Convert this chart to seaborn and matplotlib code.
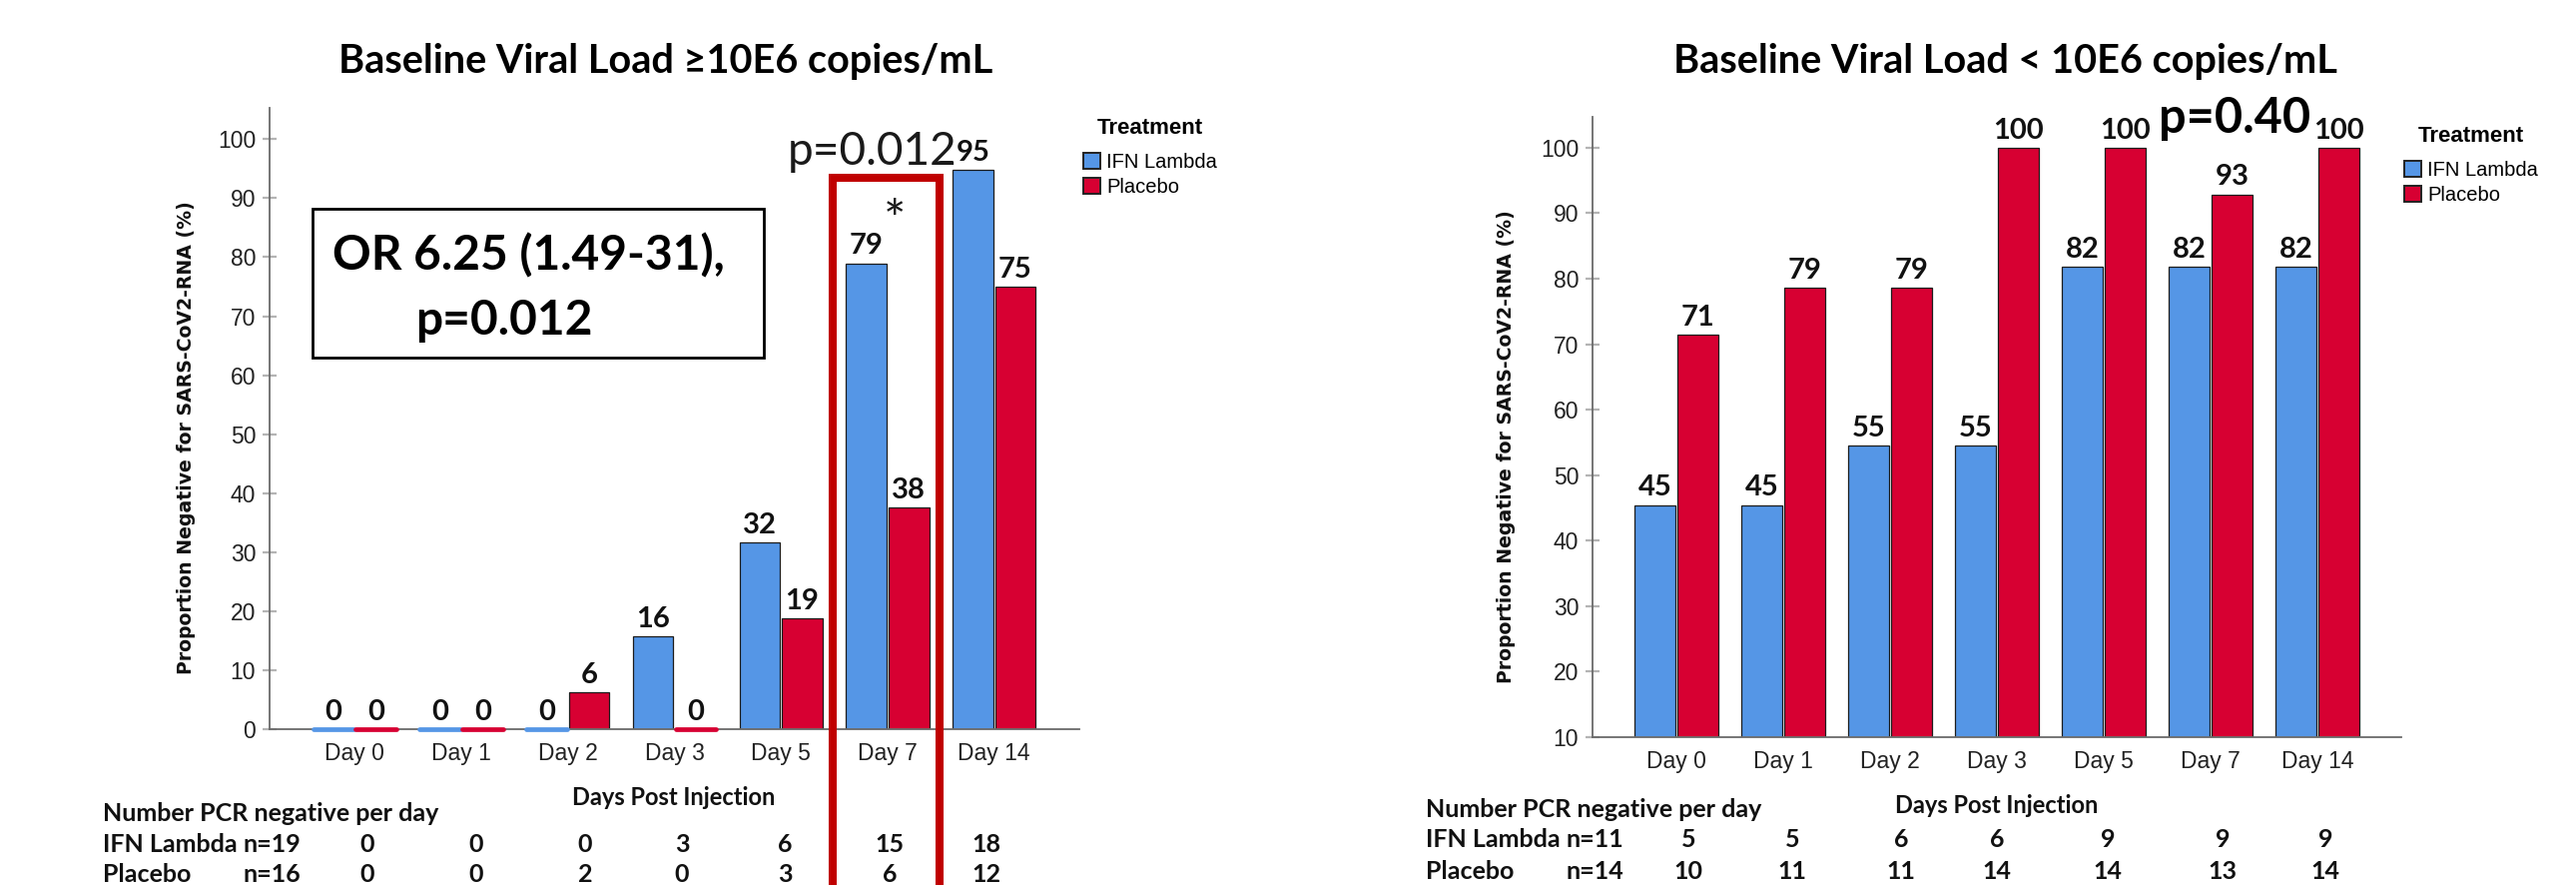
import matplotlib
matplotlib.use("Agg")
import matplotlib.pyplot as plt
from matplotlib.lines import Line2D
from matplotlib.patches import Rectangle
import pandas as pd
import seaborn as sns

# ---------------------------------------------------------------- data
days = ["Day 0", "Day 1", "Day 2", "Day 3", "Day 5", "Day 7", "Day 14"]
treatments = ["IFN Lambda", "Placebo"]

# proportion (%) PCR negative, baseline viral load >= 10E6 copies/mL
high_ifn = [0, 0, 0, 15.79, 31.58, 78.95, 94.74]
high_placebo = [0, 0, 6.25, 0, 18.75, 37.5, 75.0]

# proportion (%) PCR negative, baseline viral load < 10E6 copies/mL
low_ifn = [45.45, 45.45, 54.55, 54.55, 81.82, 81.82, 81.82]
low_placebo = [71.43, 78.57, 78.57, 100.0, 100.0, 92.86, 100.0]

# number of PCR-negative patients per day
high_ifn_n = [0, 0, 0, 3, 6, 15, 18]
high_placebo_n = [0, 0, 2, 0, 3, 6, 12]
low_ifn_n = [5, 5, 6, 6, 9, 9, 9]
low_placebo_n = [10, 11, 11, 14, 14, 13, 14]

high_group_sizes = ["n=19", "n=16"]
low_group_sizes = ["n=11", "n=14"]

palette = {"IFN Lambda": "#5596E6", "Placebo": "#D70032"}

# ---------------------------------------------------------------- figure
W, H = 2580, 886
plt.rcParams["font.family"] = ["Liberation Sans", "DejaVu Sans"]
fig = plt.figure(figsize=(W / 100, H / 100), dpi=100)
fig.patch.set_facecolor("white")

CAL = ["Lato", "DejaVu Sans"]


def fx(px):
    return px / W


def fy(py):
    return 1 - py / H


def panel(rect, ifn, placebo, ylim, yticks, xlim, legend_xy, ylabel_xy):
    df = pd.DataFrame({
        "Day": days * 2,
        "Treatment": [treatments[0]] * len(days) + [treatments[1]] * len(days),
        "Pct": list(ifn) + list(placebo),
    })
    ax = fig.add_axes(rect)
    sns.barplot(data=df, x="Day", y="Pct", hue="Treatment", order=days,
                hue_order=treatments, palette=palette, saturation=1,
                width=0.8, gap=0.05, edgecolor="#1c1c1c", linewidth=0.9,
                errorbar=None, ax=ax)

    for cont in ax.containers:
        ax.bar_label(cont, fmt="{:.0f}", padding=3, fontsize=21,
                     fontweight="bold", family=CAL, color="#111111")

    # zero-height bars are shown as a coloured strip on the baseline
    for p in ax.patches:
        if p.get_height() == 0:
            p.set_edgecolor(p.get_facecolor())
            p.set_linewidth(3.4)
            p.set_capstyle("round")
            p.set_clip_on(False)
            p.set_zorder(3)

    ax.set_ylim(*ylim)
    ax.set_xlim(*xlim)
    ax.set_yticks(yticks)
    ax.set_xlabel("")
    ax.set_ylabel("")
    for side in ("top", "right"):
        ax.spines[side].set_visible(False)
    for side in ("left", "bottom"):
        ax.spines[side].set_color("#6a6a6a")
        ax.spines[side].set_linewidth(1.3)
    ax.tick_params(axis="y", direction="inout", length=10, width=1.6,
                   color="#b4b4b4", labelsize=16.5, labelcolor="#222222",
                   pad=5)
    ax.tick_params(axis="x", length=0, pad=9, labelsize=16.5,
                   labelcolor="#222222")

    handles, labels = ax.get_legend_handles_labels()
    if ax.legend_ is not None:
        ax.legend_.remove()
    leg = ax.legend(handles, labels, title="Treatment", loc="upper left",
                    bbox_to_anchor=legend_xy, bbox_transform=fig.transFigure,
                    frameon=False, prop={"size": 14.5},
                    title_fontproperties={"weight": "bold", "size": 16},
                    handlelength=0.85, handleheight=0.85, handletextpad=0.3,
                    labelspacing=0.3, borderpad=0, borderaxespad=0)
    leg._legend_box.sep = 10
    for h in leg.legend_handles:
        h.set_edgecolor("#222222")
        h.set_linewidth(1.4)

    fig.text(ylabel_xy[0], ylabel_xy[1],
             "Proportion Negative for SARS-CoV2-RNA (%)", rotation=90,
             ha="center", va="center", family="DejaVu Sans",
             fontweight="bold", fontsize=13.6, color="#111111")
    return ax


# ---------------------------------------------------------------- left panel
ax1 = panel([fx(270), fy(730), fx(1081) - fx(270), fy(108) - fy(730)],
            high_ifn, high_placebo, (0, 105.3), range(0, 101, 10),
            (-0.80, 6.80), (fx(1085), fy(118)), (fx(187), fy(438)))

fig.text(fx(667), fy(73), "Baseline Viral Load \u226510E6 copies/mL",
         ha="center", va="baseline", fontsize=28.5, fontweight="bold",
         family=CAL)

fig.add_artist(Rectangle((fx(313), fy(358)), fx(765) - fx(313),
                         fy(209) - fy(358), transform=fig.transFigure,
                         fill=False, ec="black", lw=2))
fig.text(fx(333), fy(270), "OR 6.25 (1.49-31),", ha="left", va="baseline",
         fontsize=34.5, fontweight="bold", family=CAL)
fig.text(fx(416), fy(335), "p=0.012", ha="left", va="baseline",
         fontsize=34.5, fontweight="bold", family=CAL)

fig.text(fx(789), fy(165), "p=0.012", ha="left", va="baseline",
         fontsize=33, family=CAL, color="#1a1a1a")
fig.text(fx(896), fy(238), "*", ha="center", va="baseline",
         fontsize=38, family=CAL, color="#1a1a1a")

fig.add_artist(Line2D([fx(834), fx(834), fx(941), fx(941)],
                      [fy(900), fy(178), fy(178), fy(900)],
                      transform=fig.transFigure, color="#C00000", lw=5.8,
                      solid_joinstyle="miter"))

# ---------------------------------------------------------------- right panel
ax2 = panel([fx(1595), fy(738), fx(2405) - fx(1595), fy(117) - fy(738)],
            low_ifn, low_placebo, (10, 104.7), range(10, 101, 10),
            (-0.785, 6.785), (fx(2408), fy(126)), (fx(1509), fy(447)))

fig.text(fx(2008), fy(73), "Baseline Viral Load < 10E6 copies/mL",
         ha="center", va="baseline", fontsize=28.5, fontweight="bold",
         family=CAL)
fig.text(fx(2162), fy(133), "p=0.40", ha="left", va="baseline",
         fontsize=35, fontweight="bold", family=CAL)


# ---------------------------------------------------------------- count tables
def count_table(x_label, x_n_right, x_axis_title, xs, rows_y, head_y,
                axis_title_y, ifn_n, placebo_n, sizes):
    kw = dict(fontsize=18, fontweight="bold", family=CAL, va="baseline",
              color="#111111")
    fig.text(fx(x_label), fy(head_y), "Number PCR negative per day",
             ha="left", **kw)
    fig.text(fx(x_axis_title), fy(axis_title_y), "Days Post Injection",
             ha="center", **{**kw, "fontsize": 17})
    fig.text(fx(x_label), fy(rows_y[0]), "IFN Lambda", ha="left", **kw)
    fig.text(fx(x_label), fy(rows_y[1]), "Placebo", ha="left", **kw)
    fig.text(fx(x_n_right), fy(rows_y[0]), sizes[0], ha="right", **kw)
    fig.text(fx(x_n_right), fy(rows_y[1]), sizes[1], ha="right", **kw)
    for x, a, b in zip(xs, ifn_n, placebo_n):
        fig.text(fx(x), fy(rows_y[0]), str(a), ha="center", **kw)
        fig.text(fx(x), fy(rows_y[1]), str(b), ha="center", **kw)


count_table(103, 301, 675, [368, 477, 586, 683, 786, 891, 988],
            (853, 883), 822, 806, high_ifn_n, high_placebo_n,
            high_group_sizes)
count_table(1428, 1626, 2000, [1691, 1795, 1904, 2000, 2111, 2226, 2329],
            (848, 880), 818, 814, low_ifn_n, low_placebo_n,
            low_group_sizes)

fig.savefig("out.png", dpi=100, facecolor="white")
